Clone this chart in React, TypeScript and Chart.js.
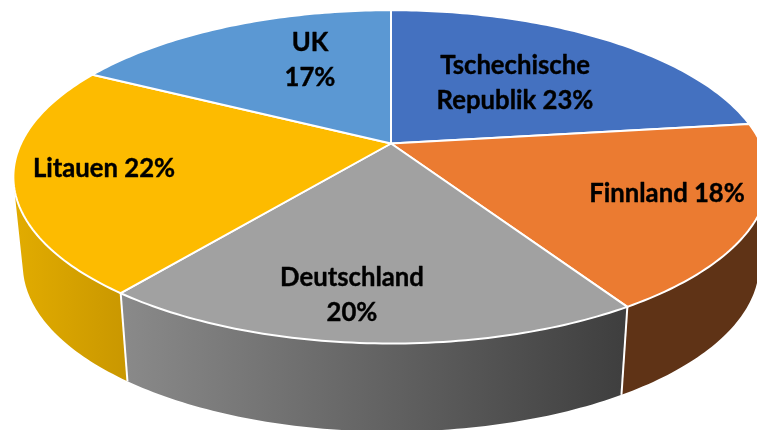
import React, { useEffect, useRef } from "react";
import { Chart, registerables } from "chart.js";

Chart.register(...registerables);

const categories = ["Tschechische Republik", "Finnland", "Deutschland", "Litauen", "UK"];
const shares = [23, 18.1, 19.45, 22.25, 17.2];
const topColors = ["#4471C0", "#EB7B31", "#A1A1A1", "#FDBB00", "#5B98D3"];
const wallFrom = ["#2F5597", "#5F3316", "#8A8A8A", "#E2AC00", "#3F76A8"];
const wallTo = ["#2F5597", "#5F3316", "#3E3E3E", "#C99700", "#3F76A8"];
const labelLines = [
  ["Tschechische", "Republik 23%"],
  ["Finnland 18%"],
  ["Deutschland", "20%"],
  ["Litauen 22%"],
  ["UK", "17%"],
];
const labelCenters = [
  [515, 83],
  [667, 194],
  [352, 295],
  [104, 169],
  [310, 60],
];

const APEX_X = 391;
const APEX_Y = 143.5;
const RX = 370;
const RY = 160;
const PERSPECTIVE = 0.2;
const DEPTH = 88;
const FLOOR_SCALE = 0.975;

const project = (a: number): [number, number] => {
  const x = Math.cos(a);
  const y = Math.sin(a);
  const w = 1 - PERSPECTIVE * y;
  return [APEX_X + (RX * x) / w, APEX_Y + (RY * y) / w];
};
const projectFloor = (a: number): [number, number] => {
  const [x, y] = project(a);
  return [APEX_X + (x - APEX_X) * FLOOR_SCALE, y + DEPTH];
};

const arcPoints = (start: number, end: number, fn: (a: number) => [number, number]) => {
  const n = Math.max(8, Math.ceil((end - start) * 60));
  const pts: [number, number][] = [];
  for (let i = 0; i <= n; i++) pts.push(fn(start + ((end - start) * i) / n));
  return pts;
};

const tiltedPie = {
  id: "tiltedPie",
  beforeDatasetsDraw(chart: any) {
    const ctx: CanvasRenderingContext2D = chart.ctx;
    const arcs = chart.getDatasetMeta(0).data;
    ctx.save();
    ctx.lineJoin = "round";

    // side walls: swept strip between the top rim and the floor rim,
    // every quad wound the same way so one non-zero fill has no seams
    arcs.forEach((arc: any, i: number) => {
      const top = arcPoints(arc.startAngle, arc.endAngle, project);
      const floor = arcPoints(arc.startAngle, arc.endAngle, projectFloor);
      const xs = top.concat(floor).map((p) => p[0]);
      const g = ctx.createLinearGradient(Math.min(...xs), 0, Math.max(...xs), 0);
      g.addColorStop(0, wallFrom[i]);
      g.addColorStop(1, wallTo[i]);
      ctx.fillStyle = g;
      ctx.beginPath();
      for (let k = 0; k < top.length - 1; k++) {
        const quad = [top[k], top[k + 1], floor[k + 1], floor[k]];
        let area = 0;
        quad.forEach((p, m) => {
          const q = quad[(m + 1) % 4];
          area += p[0] * q[1] - q[0] * p[1];
        });
        if (area < 0) quad.reverse();
        quad.forEach((p, m) => (m ? ctx.lineTo(p[0], p[1]) : ctx.moveTo(p[0], p[1])));
        ctx.closePath();
      }
      ctx.fill("nonzero");
    });
    // wall seams
    ctx.strokeStyle = "#FFFFFF";
    ctx.lineWidth = 2;
    arcs.forEach((arc: any) => {
      const a = project(arc.startAngle);
      const b = projectFloor(arc.startAngle);
      ctx.beginPath();
      ctx.moveTo(a[0], a[1]);
      ctx.lineTo(b[0], b[1]);
      ctx.stroke();
    });

    // top faces
    arcs.forEach((arc: any, i: number) => {
      const pts = arcPoints(arc.startAngle, arc.endAngle, project);
      ctx.beginPath();
      ctx.moveTo(APEX_X, APEX_Y);
      pts.forEach((p) => ctx.lineTo(p[0], p[1]));
      ctx.closePath();
      ctx.fillStyle = arc.options.backgroundColor;
      ctx.fill();
      ctx.stroke();
    });

    // labels
    ctx.fillStyle = "#000000";
    ctx.strokeStyle = "#000000";
    ctx.lineWidth = 0.4;
    ctx.font = "bold 25.7px Lato";
    ctx.textAlign = "center";
    ctx.textBaseline = "middle";
    labelLines.forEach((lines, i) => {
      const [cx, cy] = labelCenters[i];
      lines.forEach((t, k) => {
        const ly = cy + (k - (lines.length - 1) / 2) * 35;
        ctx.fillText(t, cx, ly);
        ctx.strokeText(t, cx, ly);
      });
    });
    ctx.restore();
    return false;
  },
};

export default function App() {
  const ref = useRef<HTMLCanvasElement>(null);
  useEffect(() => {
    const chart = new Chart(ref.current!, {
      type: "pie",
      data: {
        labels: categories,
        datasets: [{ data: shares, backgroundColor: topColors, borderWidth: 0 }],
      },
      options: {
        animation: false,
        responsive: false,
        events: [],
        plugins: { legend: { display: false }, tooltip: { enabled: false } },
      },
      plugins: [tiltedPie],
    } as any);
    return () => chart.destroy();
  }, []);
  return (
    <div style={{ position: "fixed", left: 0, top: 0, width: 757, height: 430, background: "#fff" }}>
      <canvas ref={ref} width={757} height={430} style={{ display: "block" }} />
    </div>
  );
}
